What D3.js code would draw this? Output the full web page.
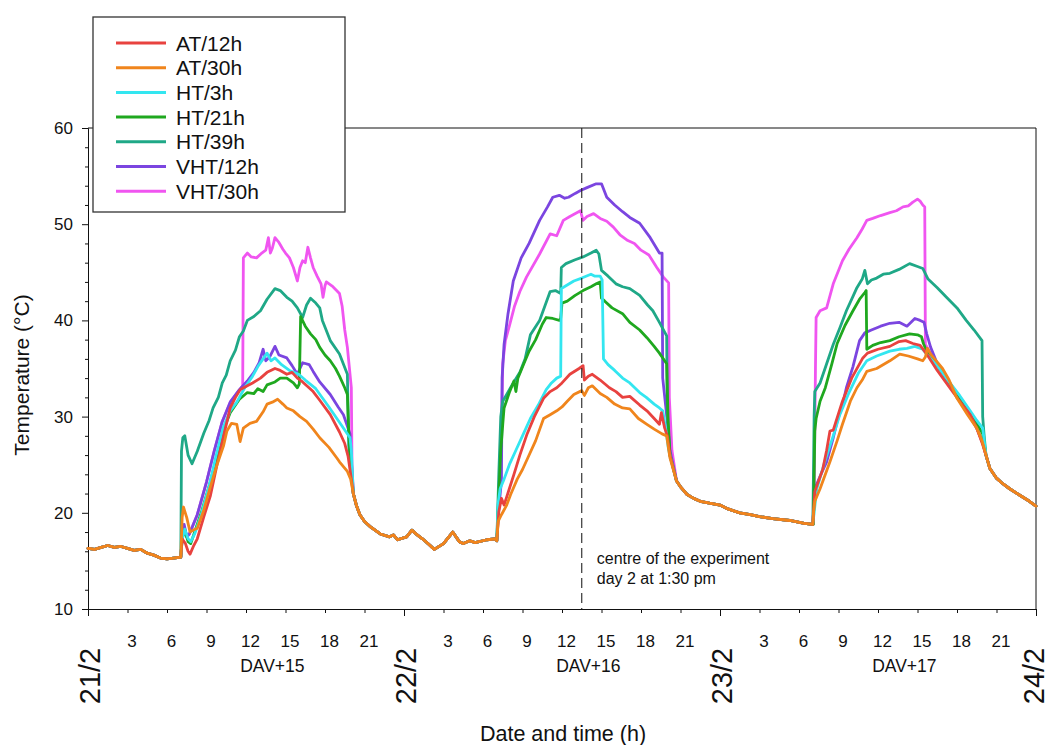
<!DOCTYPE html>
<html>
<head>
<meta charset="utf-8">
<script src="https://cdn.jsdelivr.net/npm/d3@7"></script>
<style>
  html, body { margin: 0; padding: 0; background: #fff; }
  svg { display: block; font-family: "Liberation Sans", Arial, Helvetica, sans-serif; }
</style>
</head>
<body>
<svg id="chart" width="1051" height="745"></svg>
<script>
// ---------------- data ----------------
// hours since 21/2 00:00, temperature in °C
const seriesNames = ["AT/12h", "AT/30h", "HT/3h", "HT/21h", "HT/39h", "VHT/12h", "VHT/30h"];
const seriesColors = ["#e8423f", "#f0851c", "#33e6f0", "#1fa81f", "#1fa887", "#7b45e0", "#f055f0"];

const hourTicks = [3, 6, 9, 12, 15, 18, 21];
const dayLabels = ["21/2", "22/2", "23/2", "24/2"];
const davLabels = ["DAV+15", "DAV+16", "DAV+17"];
const tempTicks = [10, 20, 30, 40, 50, 60];
const tempMinorTicks = [12, 14, 16, 18, 22, 24, 26, 28, 32, 34, 36, 38, 42, 44, 46, 48, 52, 54, 56, 58];
const centreHour = 37.5;

// night periods, shared by every treatment
const night1 = [[0,16.3],[0.5,16.2],[1,16.4],[1.5,16.6],[2,16.4],[2.5,16.5],[3,16.3],[3.5,16.1],[4,16.2],[4.5,15.8],[5,15.6],[5.5,15.3],[6,15.2],[6.5,15.3],[7.05,15.4]];
const night2 = [[20.15,22.0],[20.4,20.7],[20.65,19.8],[21.0,19.1],[21.4,18.6],[22.2,17.8],[22.9,17.5],[23.2,17.7],[23.5,17.2],[24.2,17.5],[24.6,18.2],[25.0,17.7],[25.4,17.3],[25.9,16.7],[26.3,16.2],[27.0,16.8],[27.7,18.0],[28.2,17.0],[28.5,16.8],[29.0,17.1],[29.4,16.9],[30.3,17.2],[30.9,17.3],[31.05,17.1]];
const night3 = [[44.7,23.3],[45.0,22.7],[45.5,21.9],[46.0,21.5],[46.5,21.2],[47.2,21.0],[48.0,20.8],[48.6,20.4],[49.5,20.0],[50.3,19.8],[51.0,19.6],[52.0,19.4],[53.3,19.2],[54.4,18.9],[55.05,18.8]];
const tail = [[68.2,26.0],[68.5,24.6],[69.0,23.6],[69.5,23.0],[70.0,22.5],[70.8,21.8],[71.5,21.2],[72.0,20.7]];

// AT/12h
const at12Day1 = [[7.15,17.3],[7.4,16.8],[7.6,16.0],[7.75,15.7],[8.0,16.5],[8.3,17.3],[8.8,19.6],[9.3,21.8],[9.8,25.0],[10.3,28.0],[10.8,30.9],[11.2,32.0],[11.55,32.8],[12.1,33.2],[12.5,33.5],[13.1,34.0],[13.6,34.6],[14.2,35.0],[14.6,34.8],[15.1,34.4],[15.5,34.6],[15.9,34.0],[16.3,33.6],[17.1,32.6],[17.6,31.7],[18.4,30.2],[19.1,28.4],[19.5,27.2],[19.75,25.9],[19.95,24.0]];
const at12Day2 = [[31.2,20.1],[31.4,21.5],[31.6,20.8],[32.0,22.5],[32.35,24.0],[32.8,26.0],[33.35,28.2],[33.9,30.0],[34.6,31.9],[35.1,32.6],[35.6,33.0],[36.0,33.5],[36.6,34.4],[37.3,35.0],[37.6,35.3],[37.7,33.8],[38.0,34.2],[38.3,34.4],[38.9,33.8],[39.6,33.0],[40.1,32.6],[40.6,32.0],[41.15,32.1],[41.9,31.2],[42.45,30.6],[43.0,29.8],[43.4,29.2],[43.55,30.4],[43.8,28.8],[44.0,28.0],[44.2,26.0]];
const at12Day3 = [[55.2,22.2],[55.8,24.5],[56.1,26.5],[56.35,28.5],[56.6,28.6],[57.3,31.6],[58.0,34.0],[58.85,36.1],[59.2,36.6],[60.0,37.0],[60.9,37.3],[61.6,37.8],[62.1,37.9],[62.65,37.6],[63.2,37.4],[63.7,36.5],[64.5,34.8],[65.45,33.0],[66.2,31.6],[67.0,30.2],[67.5,28.8],[67.95,27.1]];

// AT/30h
const at30Day1 = [[7.15,19.5],[7.25,20.6],[7.5,19.5],[7.75,18.0],[8.0,18.2],[8.3,18.4],[8.8,20.3],[9.25,22.5],[9.8,25.0],[10.3,27.0],[10.55,28.5],[10.9,29.3],[11.3,29.2],[11.55,27.4],[11.8,28.8],[12.3,29.3],[12.8,29.5],[13.3,30.5],[13.6,31.3],[14.0,31.5],[14.4,31.8],[14.8,31.3],[15.1,30.9],[15.6,30.6],[16.1,30.0],[16.6,29.5],[17.1,28.7],[17.6,27.8],[18.3,26.8],[18.9,25.7],[19.1,25.3],[19.7,24.3],[19.95,23.5]];
const at30Day2 = [[31.15,19.1],[31.4,19.8],[31.8,20.8],[32.1,21.9],[32.6,23.5],[33.0,24.5],[33.4,25.7],[34.0,27.5],[34.6,29.8],[35.1,30.2],[35.6,30.6],[36.0,31.0],[36.4,31.6],[36.9,32.3],[37.5,32.7],[37.7,32.2],[38.0,33.0],[38.3,33.2],[38.9,32.4],[39.4,32.0],[40.0,31.3],[40.6,30.9],[41.15,30.8],[41.8,29.8],[42.45,29.2],[43.0,28.7],[43.6,28.2],[43.95,28.0],[44.2,25.7]];
const at30Day3 = [[55.1,20.0],[55.2,21.2],[55.6,22.5],[56.35,25.3],[56.9,27.5],[57.3,29.2],[57.9,31.6],[58.4,33.0],[58.8,33.8],[59.15,34.7],[59.9,35.0],[60.9,35.8],[61.65,36.5],[62.3,36.3],[63.0,36.0],[63.4,35.8],[63.6,36.2],[63.75,37.1],[64.0,36.5],[64.9,35.0],[65.4,33.8],[66.0,31.9],[66.8,30.2],[67.5,28.8],[67.9,27.5]];

// HT/3h
const ht3Day1 = [[7.15,17.2],[7.35,18.3],[7.6,17.3],[7.8,17.0],[8.1,17.8],[8.6,19.8],[9.2,22.8],[9.7,25.8],[10.3,29.0],[10.8,30.6],[11.3,31.5],[11.9,33.0],[12.5,34.2],[12.9,35.2],[13.3,36.0],[13.6,36.6],[13.9,35.8],[14.2,36.1],[14.7,35.4],[15.3,34.8],[16.0,34.4],[16.5,33.8],[17.3,32.9],[18.3,31.0],[19.2,29.2],[19.9,27.8],[20.0,26.5]];
const ht3Day2 = [[31.15,21.0],[31.3,22.5],[31.6,23.5],[32.0,25.0],[32.5,26.5],[33.0,28.0],[33.6,29.8],[34.2,31.2],[34.8,32.8],[35.2,33.5],[35.6,34.0],[35.9,34.2],[35.95,43.3],[36.3,43.6],[36.9,44.1],[37.5,44.4],[38.2,44.8],[38.5,44.6],[38.9,44.6],[39.05,44.2],[39.15,36.0],[39.5,35.4],[40.0,34.8],[40.6,34.0],[41.15,33.5],[41.9,32.5],[42.4,32.0],[43.0,31.3],[43.4,30.9],[43.65,30.6],[43.9,28.5],[44.1,26.5]];
const ht3Day3 = [[55.35,22.5],[56.0,25.5],[56.6,28.0],[57.1,30.2],[57.8,32.5],[58.5,34.5],[59.15,35.8],[59.9,36.3],[60.9,36.8],[61.6,37.0],[62.2,37.1],[62.8,37.3],[63.4,37.0],[63.7,36.5],[64.5,35.3],[65.4,33.6],[66.2,32.2],[67.0,30.6],[67.5,29.6],[67.95,28.8]];

// HT/21h
const ht21Day1 = [[7.15,17.3],[7.35,18.2],[7.6,17.0],[7.8,16.8],[8.1,18.0],[8.6,20.0],[9.2,22.8],[9.8,25.8],[10.4,29.0],[10.8,30.4],[11.5,31.8],[12.1,32.5],[12.6,32.4],[12.9,32.9],[13.3,32.6],[13.6,33.3],[14.2,33.6],[14.6,34.0],[15.1,34.0],[15.6,33.5],[15.9,33.0],[16.05,33.4],[16.15,40.4],[16.5,39.4],[16.9,38.6],[17.3,38.0],[17.6,37.2],[18.0,36.4],[18.4,35.8],[18.8,35.0],[19.1,34.2],[19.5,33.0],[19.7,32.3],[19.8,28.5],[19.95,25.0]];
const ht21Day2 = [[31.2,22.0],[31.35,26.5],[31.5,29.2],[31.6,30.9],[32.0,32.5],[32.35,33.7],[32.5,32.6],[32.65,34.0],[33.1,35.5],[33.5,36.8],[34.0,38.0],[34.5,39.6],[34.8,40.3],[35.3,40.2],[35.8,40.0],[35.9,40.2],[36.0,41.8],[36.4,42.0],[37.0,42.6],[37.6,43.1],[38.2,43.5],[38.6,43.8],[38.9,44.0],[39.0,42.3],[39.25,42.0],[39.8,41.3],[40.6,40.7],[41.15,39.8],[41.9,39.0],[42.45,38.2],[43.0,37.3],[43.4,36.6],[43.95,35.5],[44.05,30.0],[44.2,26.0]];
const ht21Day3 = [[55.1,18.8],[55.2,28.5],[55.3,29.8],[55.6,31.6],[56.0,33.0],[56.5,35.5],[56.9,37.6],[57.5,39.5],[58.1,41.0],[58.6,42.2],[59.0,42.9],[59.1,43.1],[59.15,37.0],[59.6,37.4],[60.2,37.7],[60.9,37.9],[61.6,38.3],[62.4,38.6],[63.0,38.5],[63.3,38.3],[63.45,37.6],[63.7,36.8],[64.5,35.3],[65.4,33.6],[66.2,32.0],[67.0,30.4],[67.5,29.3],[67.95,28.2]];

// HT/39h
const ht39Day1 = [[7.1,26.4],[7.2,27.8],[7.35,28.0],[7.6,26.0],[7.9,25.1],[8.3,26.4],[8.8,28.3],[9.2,29.6],[9.5,30.9],[9.9,32.0],[10.2,33.5],[10.5,34.3],[10.8,35.8],[11.2,36.9],[11.5,38.3],[11.8,38.9],[12.1,40.0],[12.6,40.4],[13.1,41.0],[13.6,42.2],[14.2,43.3],[14.6,43.1],[15.1,42.4],[15.5,42.0],[15.9,41.3],[16.3,40.3],[16.6,41.6],[16.9,42.3],[17.3,41.8],[17.6,41.3],[17.8,40.0],[18.4,37.9],[19.1,36.5],[19.7,34.4],[19.8,27.0],[19.95,25.0]];
const ht39Day2 = [[31.2,24.0],[31.35,30.0],[31.5,31.6],[31.8,32.3],[32.3,33.5],[32.8,34.6],[33.2,36.0],[33.6,38.5],[34.3,40.0],[34.7,41.5],[35.1,43.0],[35.5,43.1],[35.9,42.8],[35.95,45.5],[36.3,45.9],[37.0,46.3],[37.6,46.6],[38.2,47.0],[38.6,47.3],[38.8,46.9],[39.0,45.2],[39.5,44.6],[40.1,43.8],[40.6,43.5],[41.15,43.3],[41.9,42.6],[42.5,41.6],[42.9,41.0],[43.4,39.8],[43.95,38.4],[44.0,30.0],[44.2,26.0]];
const ht39Day3 = [[55.15,30.0],[55.2,32.6],[55.6,33.5],[56.1,35.5],[56.6,37.5],[57.1,39.2],[57.6,41.0],[58.1,42.5],[58.4,43.4],[58.8,44.3],[59.0,45.2],[59.2,43.8],[59.5,44.2],[59.9,44.4],[60.4,44.8],[60.9,44.9],[61.6,45.3],[62.4,45.9],[63.0,45.6],[63.4,45.4],[63.8,44.3],[64.5,43.4],[65.2,42.4],[66.0,41.3],[66.7,40.0],[67.3,39.0],[67.9,37.9],[67.95,30.0],[68.05,28.2]];

// VHT/12h
const vht12Day1 = [[7.15,17.5],[7.3,18.8],[7.5,17.5],[7.7,17.8],[8.3,19.8],[9.0,23.2],[9.6,26.5],[10.2,29.5],[10.8,31.5],[11.5,32.8],[12.1,33.7],[12.6,34.6],[13.0,35.6],[13.3,37.0],[13.5,35.8],[13.8,36.2],[14.2,37.3],[14.5,36.4],[15.1,36.1],[15.5,35.3],[15.9,34.4],[16.3,35.6],[16.8,35.4],[17.1,34.7],[17.6,33.6],[18.4,32.3],[19.0,31.0],[19.4,30.2],[19.9,28.2],[20.0,25.5]];
const vht12Day2 = [[31.2,20.5],[31.4,23.3],[31.45,34.0],[31.6,37.5],[31.9,40.7],[32.3,44.1],[32.9,46.5],[33.5,48.0],[34.3,50.4],[34.9,51.8],[35.3,52.8],[35.8,53.0],[36.2,52.7],[36.5,52.8],[37.0,53.2],[37.4,53.5],[37.9,53.8],[38.6,54.2],[39.0,54.2],[39.4,52.8],[40.0,52.0],[40.6,51.3],[41.15,50.7],[41.9,50.1],[42.7,48.6],[43.4,47.0],[43.6,47.0],[43.65,34.0],[44.0,29.5],[44.2,26.5]];
const vht12Day3 = [[55.2,22.5],[55.6,23.8],[56.1,25.3],[56.6,27.8],[56.9,29.5],[57.3,31.2],[57.6,33.0],[58.1,35.2],[58.6,37.9],[59.0,38.7],[59.5,39.0],[60.2,39.4],[60.9,39.7],[61.6,39.8],[62.2,39.4],[62.8,40.2],[63.2,40.0],[63.5,39.8],[63.7,38.6],[64.0,37.2],[64.5,35.5],[65.4,33.5],[66.2,31.8],[67.0,30.0],[67.5,28.8],[67.95,27.3]];

// VHT/30h
const vht30Day1 = [[7.15,17.5],[7.3,18.6],[7.5,17.5],[7.7,17.8],[8.3,19.8],[9.0,23.2],[9.6,26.5],[10.2,29.5],[10.8,31.5],[11.4,32.6],[11.75,33.2],[11.8,46.5],[12.1,47.0],[12.4,46.6],[12.8,46.5],[13.2,47.0],[13.5,47.3],[13.7,48.6],[13.85,47.0],[14.0,47.5],[14.2,48.6],[14.5,48.1],[14.8,47.4],[15.0,47.0],[15.3,46.5],[15.6,45.5],[15.9,44.1],[16.1,45.5],[16.3,46.2],[16.5,46.0],[16.7,47.6],[16.9,46.5],[17.1,45.5],[17.4,44.6],[17.7,43.8],[17.85,42.4],[18.0,43.6],[18.1,44.0],[18.6,43.5],[19.1,42.8],[19.3,41.5],[19.5,39.0],[19.7,37.2],[20.0,33.0],[20.05,25.0]];
const vht30Day2 = [[31.15,19.8],[31.4,28.0],[31.5,35.5],[31.7,37.9],[32.0,39.4],[32.4,41.5],[32.8,43.0],[33.3,44.5],[34.3,46.9],[35.1,49.0],[35.6,48.8],[36.1,50.4],[36.6,50.8],[37.4,51.4],[37.6,50.4],[37.9,50.8],[38.4,51.1],[38.9,50.6],[39.4,50.3],[39.9,49.7],[40.4,48.9],[41.0,48.3],[41.5,48.0],[42.0,47.3],[42.6,46.8],[43.2,45.5],[43.7,44.5],[44.1,43.9],[44.15,32.0],[44.35,26.5]];
const vht30Day3 = [[55.15,22.0],[55.25,35.0],[55.3,40.3],[55.6,41.0],[56.1,41.3],[56.6,43.8],[57.3,46.2],[57.8,47.4],[58.4,48.6],[58.8,49.5],[59.15,50.4],[59.6,50.6],[60.2,50.9],[60.9,51.2],[61.4,51.4],[61.9,51.8],[62.3,51.9],[62.65,52.3],[63.0,52.6],[63.2,52.4],[63.4,52.0],[63.55,51.8],[63.6,37.5],[64.0,36.6],[64.5,35.4],[65.4,33.4],[66.2,31.8],[67.0,30.0],[67.5,28.8],[67.95,27.2]];

const dayRecords = [
  [at12Day1, at12Day2, at12Day3],
  [at30Day1, at30Day2, at30Day3],
  [ht3Day1, ht3Day2, ht3Day3],
  [ht21Day1, ht21Day2, ht21Day3],
  [ht39Day1, ht39Day2, ht39Day3],
  [vht12Day1, vht12Day2, vht12Day3],
  [vht30Day1, vht30Day2, vht30Day3]
];

// ---------------- chart ----------------
const svg = d3.select("#chart");
const x = d3.scaleLinear().domain([0, 72]).range([88, 1036]);
const y = d3.scaleLinear().domain([10, 60]).range([609, 128]);

const series = seriesNames.map((name, i) => ({
  name,
  color: seriesColors[i],
  values: [].concat(night1, dayRecords[i][0], night2, dayRecords[i][1], night3, dayRecords[i][2], tail)
}));

// frame: top and right edges
svg.append("line").attr("x1", x(0)).attr("x2", x(72)).attr("y1", y(60)).attr("y2", y(60))
  .attr("stroke", "#111").attr("stroke-width", 1);
svg.append("line").attr("x1", x(72)).attr("x2", x(72)).attr("y1", y(60)).attr("y2", y(10))
  .attr("stroke", "#111").attr("stroke-width", 1);

// temperature axis
const yAxis = svg.append("g").attr("transform", `translate(${x(0)},0)`)
  .call(d3.axisLeft(y).tickValues(tempTicks).tickSize(6).tickPadding(9).tickFormat(d3.format("d")));
yAxis.select(".domain").attr("stroke", "#111");
yAxis.selectAll(".tick line").attr("stroke", "#111");
yAxis.selectAll(".tick text").attr("font-size", 17).attr("fill", "#111")
  .attr("font-family", "'Liberation Sans', Arial, sans-serif");
const yMinor = svg.append("g").attr("transform", `translate(${x(0)},0)`)
  .call(d3.axisLeft(y).tickValues(tempMinorTicks).tickSize(3).tickFormat(""));
yMinor.select(".domain").remove();
yMinor.selectAll(".tick line").attr("stroke", "#111");

// time axis
const hourMinor = [];
for (let d = 0; d < 3; d++) hourTicks.forEach(h => hourMinor.push(d * 24 + h));
const xMajor = svg.append("g").attr("transform", `translate(0,${y(10)})`)
  .call(d3.axisBottom(x).tickValues([0, 24, 48, 72]).tickSize(7).tickFormat(""));
xMajor.select(".domain").attr("stroke", "#111");
xMajor.selectAll(".tick line").attr("stroke", "#111");
const xMinor = svg.append("g").attr("transform", `translate(0,${y(10)})`)
  .call(d3.axisBottom(x).tickValues(hourMinor).tickSize(4).tickFormat(""));
xMinor.select(".domain").remove();
xMinor.selectAll(".tick line").attr("stroke", "#111");

svg.append("g").selectAll("text").data(hourMinor).join("text")
  .attr("x", d => x(d) + 4.5).attr("y", 647)
  .attr("text-anchor", "middle").attr("font-size", 17).attr("fill", "#111")
  .text(d => hourTicks[hourTicks.indexOf(d % 24)]);

svg.append("g").selectAll("text").data(davLabels).join("text")
  .attr("x", (d, i) => x(i * 24 + 14)).attr("y", 672)
  .attr("text-anchor", "middle").attr("font-size", 17.5).attr("fill", "#111")
  .text(d => d);

// date labels, read bottom to top; the last one is nudged inward to stay on the page
svg.append("g").selectAll("text").data(dayLabels).join("text")
  .attr("transform", (d, i) => `translate(${x(i * 24) + (i === dayLabels.length - 1 ? 8 : 12)},676) rotate(-90)`)
  .attr("text-anchor", "middle").attr("font-size", 29).attr("fill", "#111")
  .text(d => d);

// axis titles
svg.append("text").attr("x", 563).attr("y", 741).attr("text-anchor", "middle")
  .attr("font-size", 21.5).attr("fill", "#111").text("Date and time (h)");
svg.append("text").attr("transform", "translate(29,375) rotate(-90)").attr("text-anchor", "middle")
  .attr("font-size", 21).attr("fill", "#111").text("Temperature (°C)");

// temperature curves
const line = d3.line().x(d => x(d[0])).y(d => y(d[1]));
const drawOrder = [6, 5, 4, 3, 2, 0, 1];
svg.append("g").selectAll("path").data(drawOrder.map(i => series[i])).join("path")
  .attr("d", d => line(d.values))
  .attr("fill", "none")
  .attr("stroke", d => d.color)
  .attr("stroke-width", 2.8)
  .attr("stroke-linejoin", "round")
  .attr("stroke-linecap", "round");

// centre of the experiment marker
svg.append("line").attr("x1", x(centreHour)).attr("x2", x(centreHour))
  .attr("y1", y(60)).attr("y2", y(10))
  .attr("stroke", "#222").attr("stroke-width", 1.1).attr("stroke-dasharray", "10,5");
const note = svg.append("text").attr("font-size", 16).attr("fill", "#111");
note.append("tspan").attr("x", x(centreHour) + 15).attr("y", 564).text("centre of the experiment");
note.append("tspan").attr("x", x(centreHour) + 15).attr("y", 584).text("day 2 at 1:30 pm");

// legend
const legend = svg.append("g");
legend.append("rect").attr("x", 93).attr("y", 17).attr("width", 252).attr("height", 195)
  .attr("fill", "#fff").attr("stroke", "#333").attr("stroke-width", 1.3);
const rows = legend.selectAll("g.row").data(series).join("g").attr("class", "row")
  .attr("transform", (d, i) => `translate(0,${43 + i * 24.7})`);
rows.append("line").attr("x1", 116).attr("x2", 166).attr("y1", 0).attr("y2", 0)
  .attr("stroke", d => d.color).attr("stroke-width", 3);
rows.append("text").attr("x", 176).attr("y", 0).attr("dy", "0.36em")
  .attr("font-size", 21).attr("fill", "#111").text(d => d.name);
</script>
</body>
</html>
